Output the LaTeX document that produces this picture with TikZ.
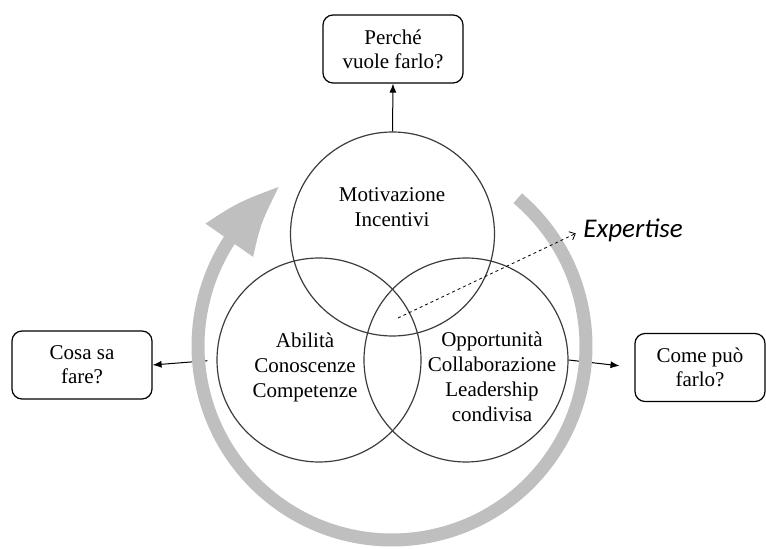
\documentclass[tikz,border=0pt]{standalone}
\usepackage{fontspec}
\setmainfont{Liberation Serif}
\newfontfamily\txtfont{Liberation Serif}
\newfontfamily\expfont{Carlito}
\usetikzlibrary{arrows.meta}
\usetikzlibrary{bending}

\begin{document}
\begin{tikzpicture}[x=0.50pt,y=0.50pt,yscale=-1,xscale=1,
  venn/.style={circle,draw={rgb,255:red,60;green,60;blue,60},line width=0.6pt,minimum size=102pt,inner sep=0pt},
  qbox/.style={draw,rounded corners=5pt,line width=0.6pt,minimum height=34pt,align=center,inner sep=2pt,
    font=\txtfont\fontsize{10.5}{12}\selectfont},
  lbl/.style={align=center,inner sep=0pt,font=\txtfont\fontsize{10.5}{12.5}\selectfont},
  conn/.style={line width=0.5pt,-{Latex[length=4.5pt,width=3.5pt]}}]
\useasboundingbox (0,0) rectangle (766,549);

%Shape: Circles
\node[venn] (mot) at (392.5,234) {};
\node[venn] (abi) at (319,360) {};
\node[venn] (opp) at (466,360) {};

%Boxes
\node[qbox,minimum width=70pt] (why) at (393,49) {Perché\\vuole farlo?};
\node[qbox,minimum width=70pt] (what) at (82,365) {Cosa sa\\fare?};
\node[qbox,minimum width=65pt] (how) at (700,367.5) {Come può\\farlo?};

% Text Node
\node[lbl] (tmot) at (392,207.5) {Motivazione\\Incentivi};
% Text Node
\node[lbl] (tabi) at (305,367.5) {Abilità\\Conoscenze\\Competenze};
% Text Node
\node[lbl] (topp) at (492,376.5) {Opportunità\\Collaborazione\\Leadership\\condivisa};
% Text Node
\node[anchor=west,inner sep=0pt,font=\expfont\itshape\fontsize{13.5}{14}\selectfont] (exp) at (583,230) {Expertise};

%Straight Lines
\draw[conn] (mot.north) -- (why.south);
\draw[conn,shorten <=4.5pt] (abi.west) -- (what.east);
\draw[conn,shorten >=7.5pt] (opp.east) -- (how.west);

%Curve Lines: gray cycle
\coordinate (gc) at (392,346);
\draw[color={rgb,255:red,191;green,191;blue,191},line width=6.5pt,
  -{Triangle[width=27pt,length=37.5pt,bend]}]
  (gc) ++(-49.6:194) arc[start angle=-49.6,end angle=235,radius=194];

%Dashed arrow
\coordinate (xs) at (398,318);
\draw[line width=0.4pt,dash pattern={on 1.5pt off 1.5pt},-{Straight Barb[length=2.5pt,width=4.5pt]},
  shorten >=4pt] (xs) -- (exp.west);

\end{tikzpicture}
\end{document}
